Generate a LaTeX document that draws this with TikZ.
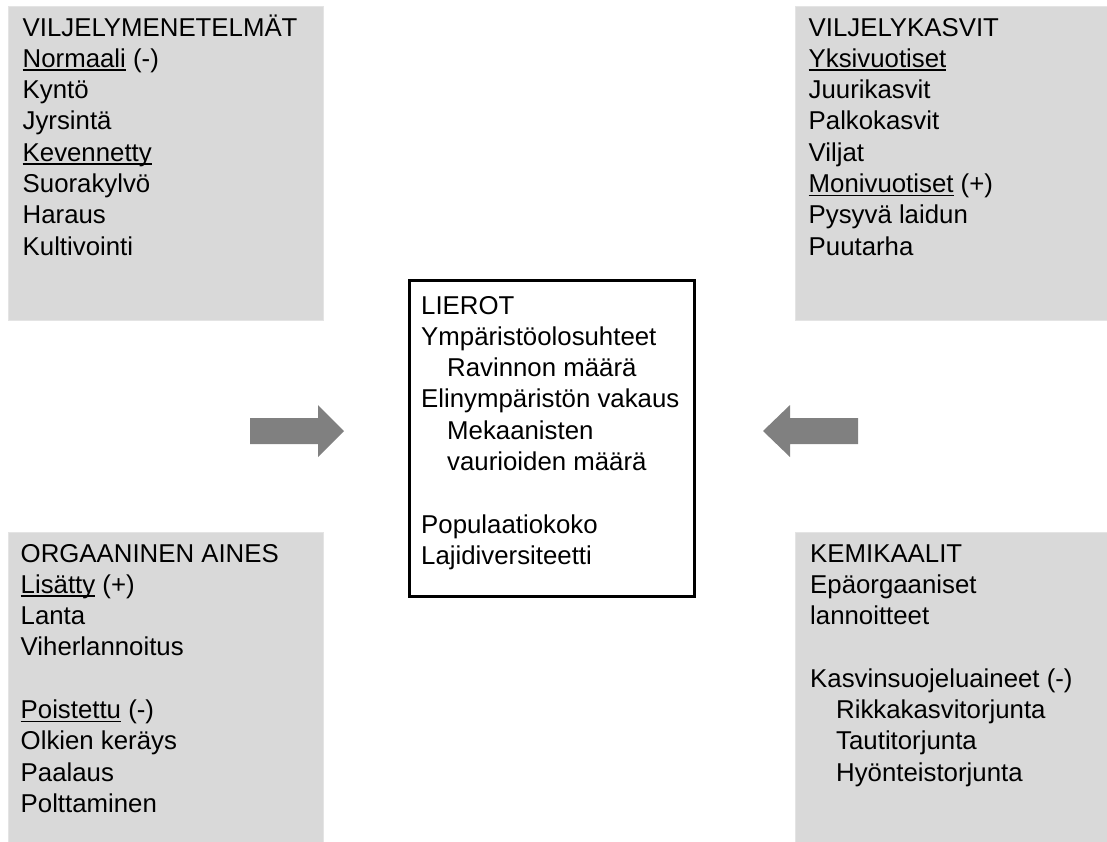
\documentclass[tikz,border=0pt]{standalone}
\usepackage{fontspec}
\setmainfont{Liberation Sans}
\definecolor{boxgray}{HTML}{D9D9D9}
\definecolor{boxedge}{HTML}{E4E4E4}
\definecolor{arrowgray}{HTML}{808080}
\newsavebox{\myulbox}
\newcommand{\myul}[1]{\sbox{\myulbox}{#1}\rlap{\rule[-3.6pt]{\wd\myulbox}{1.5pt}}\usebox{\myulbox}}
\newcommand{\ind}{\hspace*{26pt}}
\begin{document}
\begin{tikzpicture}[x=1pt,y=-1pt,
  graybox/.style={fill=boxgray,draw=boxedge,line width=1pt,inner sep=0,anchor=north west},
  centerbox/.style={draw=black,line width=2.6pt,fill=white,inner sep=0,anchor=north west},
  txt/.style={inner sep=0,anchor=base west,font=\fontsize{25.8}{31.3}\selectfont},
  blockarrow/.style={fill=arrowgray}]
\useasboundingbox (0,0) rectangle (1107,841);
% gray boxes
\node[graybox,minimum width=315pt,minimum height=314pt] (tlbox) at (8,6) {};
\node[graybox,minimum width=313pt,minimum height=314pt] (trbox) at (795,6) {};
\node[graybox,minimum width=315pt,minimum height=311pt] (blbox) at (8,532) {};
\node[graybox,minimum width=313pt,minimum height=311pt] (brbox) at (795,532) {};
% center box
\node[centerbox,minimum width=285pt,minimum height=316pt] (lierot) at (408,279) {};
% texts
\node[txt] (tltext) at (22.5,36) {\begin{tabular}[t]{@{}l@{}}
VILJELYMENETELMÄT\\
\myul{Normaali} (-)\\
Kyntö\\
Jyrsintä\\
\myul{Kevennetty}\\
Suorakylvö\\
Haraus\\
Kultivointi
\end{tabular}};
\node[txt] (trtext) at (808.5,36) {\begin{tabular}[t]{@{}l@{}}
VILJELYKASVIT\\
\myul{Yksivuotiset}\\
Juurikasvit\\
Palkokasvit\\
Viljat\\
\myul{Monivuotiset} (+)\\
Pysyvä laidun\\
Puutarha
\end{tabular}};
\node[txt] (ctext) at (421,314) {\begin{tabular}[t]{@{}l@{}}
LIEROT\\
Ympäristöolosuhteet\\
\ind Ravinnon määrä\\
Elinympäristön vakaus\\
\ind Mekaanisten\\
\ind vaurioiden määrä\\
\\
Populaatiokoko\\
Lajidiversiteetti
\end{tabular}};
\node[txt] (bltext) at (20.5,562) {\begin{tabular}[t]{@{}l@{}}
ORGAANINEN AINES\\
\myul{Lisätty} (+)\\
Lanta\\
Viherlannoitus\\
\\
\myul{Poistettu} (-)\\
Olkien keräys\\
Paalaus\\
Polttaminen
\end{tabular}};
\node[txt] (brtext) at (810,562) {\begin{tabular}[t]{@{}l@{}}
KEMIKAALIT\\
Epäorgaaniset\\
lannoitteet\\
\\
Kasvinsuojeluaineet (-)\\
\ind Rikkakasvitorjunta\\
\ind Tautitorjunta\\
\ind Hyönteistorjunta
\end{tabular}};
% block arrows
\coordinate (ltip) at (344,431);
\coordinate (rtip) at (763,431);
\fill[blockarrow] (250,418) -- (318,418) -- (318,405) -- (ltip) -- (318,457) -- (318,444) -- (250,444) -- cycle;
\fill[blockarrow] (858,418) -- (790,418) -- (790,405) -- (rtip) -- (790,457) -- (790,444) -- (858,444) -- cycle;
\end{tikzpicture}
\end{document}
